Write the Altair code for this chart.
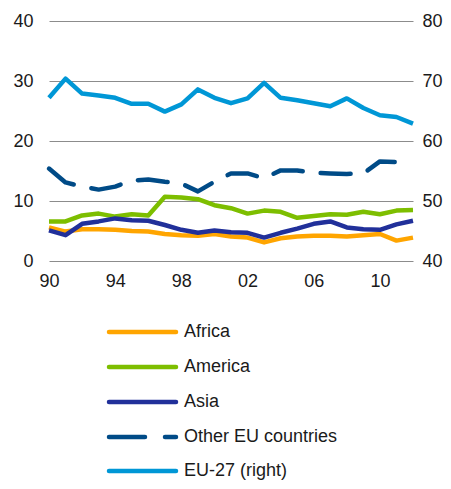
import altair as alt
import pandas as pd

years = list(range(1990, 2013))
africa = [5.6, 4.9, 5.3, 5.3, 5.2, 5.0, 4.9, 4.5, 4.3, 4.2, 4.5, 4.1, 3.9, 3.1, 3.8, 4.1, 4.2, 4.2, 4.1, 4.3, 4.5, 3.4, 3.9]
america = [6.6, 6.6, 7.6, 7.9, 7.4, 7.8, 7.6, 10.7, 10.6, 10.3, 9.3, 8.8, 7.9, 8.4, 8.2, 7.2, 7.5, 7.8, 7.7, 8.2, 7.8, 8.4, 8.5]
asia = [5.1, 4.3, 6.2, 6.6, 7.1, 6.8, 6.7, 6.0, 5.2, 4.7, 5.1, 4.8, 4.7, 3.9, 4.7, 5.4, 6.2, 6.6, 5.6, 5.3, 5.2, 6.1, 6.7]
other_eu = [15.4, 13.1, 12.4, 11.9, 12.4, 13.4, 13.6, 13.2, 12.9, 11.6, 13.2, 14.6, 14.6, 13.8, 15.1, 15.1, 14.7, 14.6, 14.5, 14.6, 16.6, 16.5]
eu27 = [67.2, 70.4, 67.9, 67.6, 67.2, 66.2, 66.2, 64.9, 66.1, 68.6, 67.2, 66.3, 67.1, 69.7, 67.2, 66.8, 66.3, 65.8, 67.1, 65.5, 64.3, 64.0, 62.9]

series_names = ["Africa", "America", "Asia", "Other EU countries", "EU-27 (right)"]
series_colors = ["#FFA500", "#7DBE00", "#21309A", "#004B87", "#0097D6"]
x_ticks = [1990, 1994, 1998, 2002, 2006, 2010]

rows = []
for name, vals in [("Africa", africa), ("America", america), ("Asia", asia)]:
    for y, v in zip(years, vals):
        rows.append({"year": y, "value": v, "series": name})
df_solid = pd.DataFrame(rows)
df_dash = pd.DataFrame({"year": years[:len(other_eu)], "value": other_eu, "series": "Other EU countries"})
df_eu = pd.DataFrame({"year": years, "value": eu27, "series": "EU-27 (right)"})

# legend table (pixel rows below the plot)
leg_y = [311, 346, 381, 416, 450]
df_leg = pd.DataFrame({"name": series_names, "color": series_colors, "py": leg_y,
                       "dash": [False, False, False, True, False]})

FONT = "Liberation Sans"
TXT = "#1a1a1a"

x_scale = alt.Scale(domain=[1990, 2012], nice=False, zero=False)
x_enc = alt.X("year:Q", scale=x_scale,
              axis=alt.Axis(values=x_ticks, labelExpr="substring(toString(datum.value), 2)",
                            title=None, grid=False, domain=False, ticks=False, labelFlush=False,
                            labelFont=FONT, labelFontSize=18, labelColor=TXT, labelPadding=11))

left_axis = alt.Axis(values=[0, 10, 20, 30, 40], title=None, grid=True, gridColor="#8c8c8c",
                     gridWidth=1, domain=False, ticks=False, labelFont=FONT, labelFontSize=18,
                     labelColor=TXT, labelPadding=16, labelFlush=False)

solid = alt.Chart(df_solid).mark_line(strokeWidth=4.5, strokeJoin="round").encode(
    x=x_enc,
    y=alt.Y("value:Q", scale=alt.Scale(domain=[0, 40], nice=False), axis=left_axis),
    color=alt.Color("series:N", scale=alt.Scale(domain=series_names[:3], range=series_colors[:3]), legend=None),
    detail="series:N",
)

dashed = alt.Chart(df_dash).mark_line(strokeWidth=4.5, strokeJoin="round", strokeCap="round",
                                       strokeDash=[30, 18], color=series_colors[3]).encode(
    x="year:Q",
    y=alt.Y("value:Q", scale=alt.Scale(domain=[0, 40], nice=False), axis=None),
)

right_axis = alt.Axis(values=[40, 50, 60, 70, 80], orient="right", title=None, grid=False,
                      domain=False, ticks=False, labelFont=FONT, labelFontSize=18,
                      labelColor=TXT, labelPadding=9, labelFlush=False)

eu_line = alt.Chart(df_eu).mark_line(strokeWidth=4.5, strokeJoin="round", color=series_colors[4]).encode(
    x="year:Q",
    y=alt.Y("value:Q", scale=alt.Scale(domain=[40, 80], nice=False), axis=right_axis),
)

leg_solid = alt.Chart(df_leg).transform_filter("!datum.dash").mark_rule(strokeWidth=4.5, strokeCap="round").encode(
    x=alt.value(60), x2=alt.value(127),
    y=alt.Y("py:Q", scale=None, axis=None),
    color=alt.Color("color:N", scale=None),
)
leg_dash = alt.Chart(df_leg).transform_filter("datum.dash").mark_rule(
    strokeWidth=4.5, strokeCap="round", strokeDash=[36, 20]).encode(
    x=alt.value(60), x2=alt.value(127),
    y=alt.Y("py:Q", scale=None, axis=None),
    color=alt.Color("color:N", scale=None),
)
leg_text = alt.Chart(df_leg).mark_text(align="left", baseline="middle", font=FONT, fontSize=18,
                                        color=TXT).encode(
    x=alt.value(135),
    y=alt.Y("py:Q", scale=None, axis=None),
    text="name:N",
)

chart = alt.layer(solid, dashed, eu_line, leg_solid, leg_dash, leg_text).resolve_scale(
    y="independent"
).properties(
    width=364, height=240,
    background="white",
    autosize=alt.AutoSizeParams(type="none"),
    padding={"left": 41, "top": 13, "right": 30, "bottom": 220},
).configure_view(
    stroke="transparent", strokeWidth=0
).configure_axis(
    domain=False, ticks=False, labelFlush=False
)

chart.save("out.html", embed_options={"renderer": "svg", "actions": False})
